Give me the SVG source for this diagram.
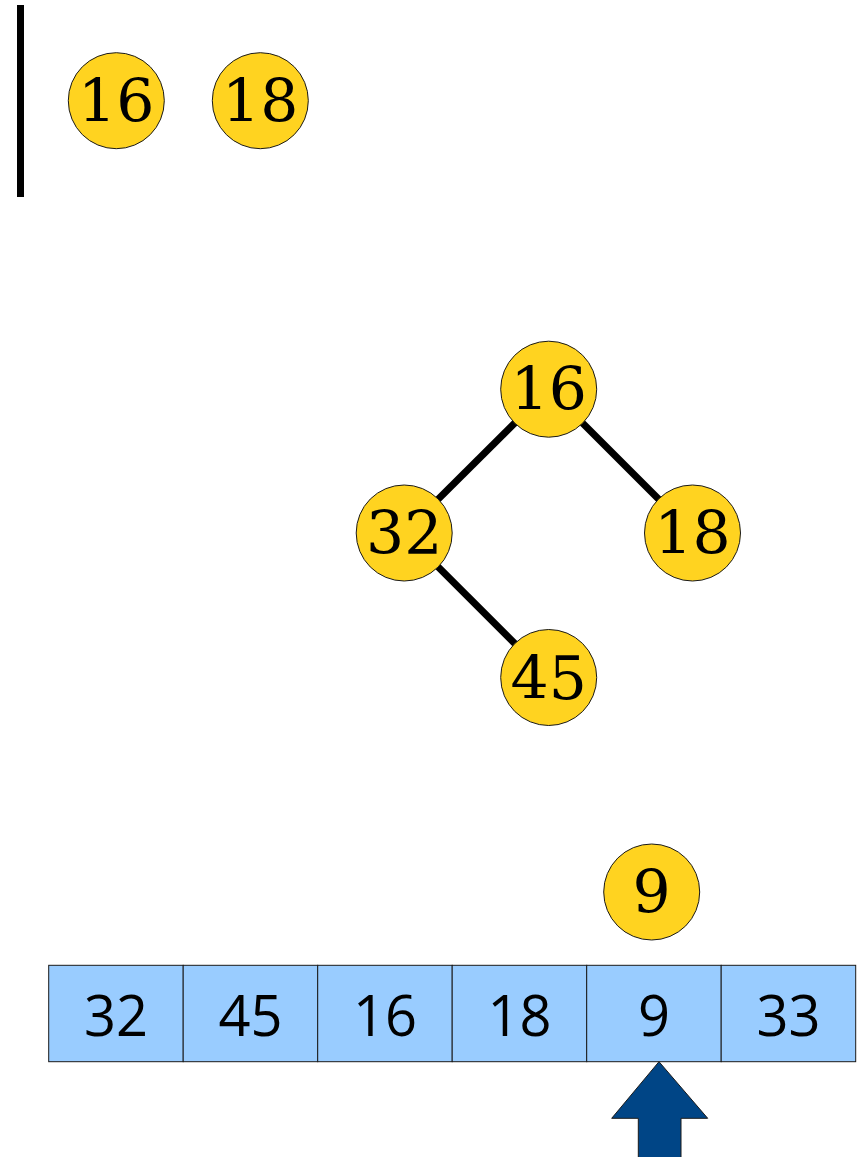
<svg xmlns="http://www.w3.org/2000/svg" width="858" height="1157" viewBox="0 0 858 1157">
<style>
.nd{fill:#ffd320;stroke:#1a1a1a;stroke-width:1}
.nt{font-family:"DejaVu Serif",serif;font-size:60px;text-anchor:middle;fill:#000}
.cell{fill:#99ccff;stroke:#1a1a1a;stroke-width:1}
.ct{font-family:"Open Sans","Noto Sans",sans-serif;font-size:56px;text-anchor:middle;fill:#000}
.edge{stroke:#000;stroke-width:7;fill:none}
</style>
<rect x="17" y="5" width="7" height="192" fill="#000"/>
<g id="n16a"><circle class="nd" cx="116.3" cy="100.7" r="48"/><text class="nt" x="116.3" y="121.7">16</text></g>
<g id="n18a"><circle class="nd" cx="260.3" cy="100.7" r="48"/><text class="nt" x="260.3" y="121.7">18</text></g>
<g id="connectors">
<line class="edge" x1="548.7" y1="389.2" x2="404.2" y2="533"/>
<line class="edge" x1="548.7" y1="389.2" x2="692.5" y2="533"/>
<line class="edge" x1="404.2" y1="533" x2="548.7" y2="677.5"/>
</g>
<g id="t16"><circle class="nd" cx="548.7" cy="389.2" r="48"/><text class="nt" x="548.7" y="410.2">16</text></g>
<g id="t32"><circle class="nd" cx="404.2" cy="533" r="48"/><text class="nt" x="404.2" y="554">32</text></g>
<g id="t18"><circle class="nd" cx="692.5" cy="533" r="48"/><text class="nt" x="692.5" y="554">18</text></g>
<g id="t45"><circle class="nd" cx="548.7" cy="677.5" r="48"/><text class="nt" x="548.7" y="698.5">45</text></g>
<g id="n9"><circle class="nd" cx="651.7" cy="892" r="48"/><text class="nt" x="651.7" y="913">9</text></g>
<g id="array">
<g id="c0"><rect class="cell" x="48.7" y="965.3" width="134.5" height="96.4"/><text class="ct" x="116" y="1036">32</text></g>
<g id="c1"><rect class="cell" x="183.2" y="965.3" width="134.5" height="96.4"/><text class="ct" x="250.5" y="1036">45</text></g>
<g id="c2"><rect class="cell" x="317.7" y="965.3" width="134.5" height="96.4"/><text class="ct" x="385" y="1036">16</text></g>
<g id="c3"><rect class="cell" x="452.2" y="965.3" width="134.5" height="96.4"/><text class="ct" x="519.5" y="1036">18</text></g>
<g id="c4"><rect class="cell" x="586.7" y="965.3" width="134.5" height="96.4"/><text class="ct" x="654" y="1036">9</text></g>
<g id="c5"><rect class="cell" x="721.2" y="965.3" width="134.5" height="96.4"/><text class="ct" x="788.5" y="1036">33</text></g>
</g>
<g id="arrow"><polygon points="659,1061.7 707.7,1118.3 681,1118.3 681,1158 638.3,1158 638.3,1118.3 611.7,1118.3" fill="#004586" stroke="#1a1a1a" stroke-width="1"/></g>
</svg>
